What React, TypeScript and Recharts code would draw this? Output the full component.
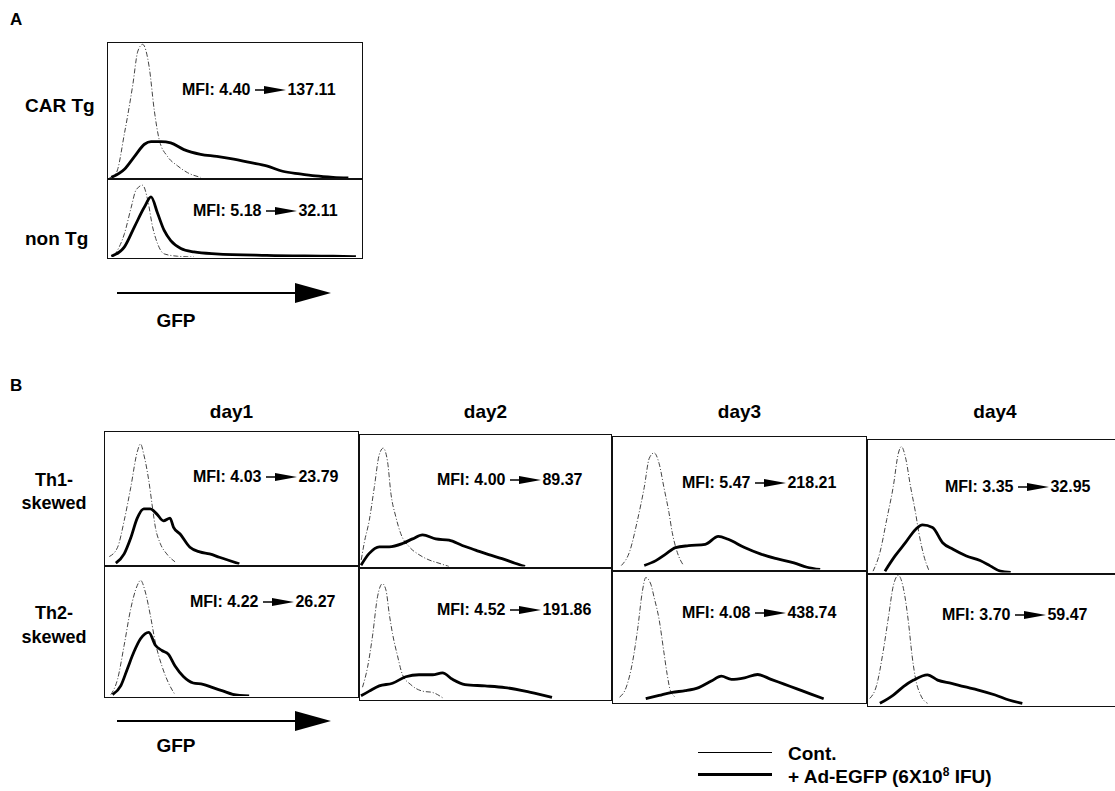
import React from 'react';
import { LineChart, Line, XAxis, YAxis } from 'recharts';

type Pt = [number, number];

// x = % of panel width, y = % of panel height
// panel A
const carTgCont: Pt[] = [[0.5, 0], [3.3, 4], [6.5, 33], [9.8, 69], [11.8, 94], [13.7, 99], [16.3, 82], [18.3, 50], [20.3, 28], [23.5, 16], [27.5, 9], [31.4, 4], [36.6, 0.5]];
const carTgEgfp: Pt[] = [[1.3, 0.5], [6.5, 6.5], [10.5, 16], [14.4, 25], [17, 27], [21, 27], [24.8, 26], [30, 21], [36.6, 17.5], [43, 16], [49.7, 14], [56, 11.5], [62.7, 9], [69, 5], [75.8, 3], [82, 1.5], [89, 0.5], [95, 0]];
const nonTgCont: Pt[] = [[2.6, 2], [6.5, 30], [9.2, 64], [11.1, 86], [13.7, 92], [15.7, 73], [17.6, 39], [19.6, 17], [22.2, 4], [27.5, 1], [34, 0]];
const nonTgEgfp: Pt[] = [[1.3, 1], [6.5, 13], [10.5, 39], [14.4, 64], [17, 77], [19.6, 56], [22.2, 34], [24.8, 21], [28.8, 11], [34, 6.5], [42.5, 4], [62.7, 2], [89, 1], [98, 0.5]];

// panel B, Th1-skewed
const th1d1Cont: Pt[] = [[1.7, 6], [5, 13], [7.6, 33], [10.2, 58], [12.8, 85], [14.1, 91], [15.4, 83], [17.4, 63], [18.7, 45], [20, 28], [21.9, 16], [24.5, 8], [27.8, 2]];
const th1d1Egfp: Pt[] = [[4.3, 1], [7.6, 8], [10.2, 20], [12.8, 35], [15.4, 42], [18, 42], [20.6, 38], [23.2, 33], [25.8, 35], [27.2, 28], [29.8, 23], [33.7, 13], [37.6, 9.5], [41.5, 8], [45.4, 5.5], [49.3, 3], [53.3, 0.5]];
const th1d2Cont: Pt[] = [[0.5, 5], [1.7, 18], [3.7, 35], [5.7, 60], [7.7, 85], [9.3, 90], [11, 80], [12.4, 55], [14.3, 38], [16.3, 25], [19.7, 15], [23.6, 9], [27.6, 5], [31.6, 2.5], [35.6, 0]];
const th1d2Egfp: Pt[] = [[0.4, 1], [3.7, 10], [7.7, 15], [11.7, 15], [17, 17.5], [21, 21], [25, 24], [30.3, 21], [35.6, 20], [40.9, 16], [46.2, 12.5], [51.5, 9], [56.8, 6], [62, 2.5], [66, 0]];
const th1d3Cont: Pt[] = [[3.3, 3], [6.5, 13], [9.8, 38], [12.4, 62], [14.4, 84], [16.3, 88], [18.3, 80], [20.2, 62], [22.2, 43], [23.5, 28], [25.5, 13], [28, 3]];
const th1d3Egfp: Pt[] = [[12.4, 3], [17, 6.7], [20.9, 11.6], [24.8, 16.5], [30, 18], [36.6, 19], [41.8, 25], [45.7, 22.8], [52.2, 16.6], [58.7, 11.6], [65.3, 8], [71.8, 5], [77, 1.7], [82.2, 0]];
const th1d4Cont: Pt[] = [[2, 1], [4.7, 15], [7.4, 40], [10, 65], [12, 90], [13.2, 95], [14.8, 87], [16.8, 65], [18.8, 45], [20.1, 30], [22.1, 12.5], [24.2, 1]];
const th1d4Egfp: Pt[] = [[6.7, 1], [10.7, 12.5], [14.8, 22.5], [18.8, 32.5], [21.5, 36], [25.5, 34], [29.5, 22.5], [33.6, 17.5], [38.9, 12.5], [44.3, 9], [48.3, 5], [52.3, 1], [56.4, 0]];

// panel B, Th2-skewed
const th2d1Cont: Pt[] = [[2.3, 1], [5, 13], [7.6, 39], [10.2, 67], [12.8, 85], [14.1, 89], [16, 80], [18, 62], [20, 41], [22.6, 23], [25.2, 10], [27.8, 1]];
const th2d1Egfp: Pt[] = [[3, 1], [6.3, 8], [8.9, 21], [11.5, 34], [14.1, 44], [17.4, 49], [20, 39], [22.6, 35], [25.2, 32], [27.8, 23], [31.1, 15], [35, 10], [38.9, 9], [42.8, 6.4], [46.7, 3.9], [50.7, 1.3], [57.2, 0]];
const th2d2Cont: Pt[] = [[1, 9], [3, 24], [5, 48], [7, 78], [9, 88], [10.4, 83], [11.7, 65], [13, 50], [15, 33], [17, 18.5], [20.3, 11], [25, 6], [29, 5], [33, 1]];
const th2d2Egfp: Pt[] = [[0.4, 2.5], [3.7, 6], [7.7, 10], [13, 12], [18.3, 17], [23.6, 18.5], [29, 18.5], [33, 20], [37, 15], [42, 11], [50, 10], [58, 8.7], [66, 6], [71.4, 3.7], [76.8, 1.2]];
const th2d3Cont: Pt[] = [[2.6, 3.7], [5.2, 11], [7.8, 31], [9.8, 56], [11.7, 85], [13, 95], [15, 90], [16.3, 80], [18.3, 63], [20.2, 38], [21.5, 21], [22.8, 8.6], [24.8, 3.7]];
const th2d3Egfp: Pt[] = [[13, 2.5], [18.3, 5], [23.5, 7.4], [28.7, 8.6], [34, 11], [39, 16], [43, 19.8], [47, 17.3], [52.2, 18.5], [57.4, 21], [62.7, 17.3], [67.9, 13.6], [73, 10], [78.3, 6.2], [83.6, 2.5]];
const th2d4Cont: Pt[] = [[0.7, 5], [3.4, 15], [6, 41], [8, 66], [10, 91], [12, 99], [14, 89], [16, 63], [17.4, 38], [18.8, 20], [20.8, 7.6], [23.5, 1.3]];
const th2d4Egfp: Pt[] = [[4.7, 1.3], [10, 7.6], [14, 14], [18, 19], [23.5, 23], [27.5, 19], [33, 16.5], [38, 14], [43.6, 11.4], [50.3, 7.6], [55.7, 3.8], [61, 1.3]];

const rowLabelsA = ['CAR Tg', 'non Tg'];
const mfiA = [['4.40', '137.11'], ['5.18', '32.11']];
const days = ['day1', 'day2', 'day3', 'day4'];
const rowLabelsB = [['Th1-', 'skewed'], ['Th2-', 'skewed']];
const mfiTh1 = [['4.03', '23.79'], ['4.00', '89.37'], ['5.47', '218.21'], ['3.35', '32.95']];
const mfiTh2 = [['4.22', '26.27'], ['4.52', '191.86'], ['4.08', '438.74'], ['3.70', '59.47']];
const legendItems = ['Cont.', '+ Ad-EGFP (6X10', '8', ' IFU)'];

const contTh1 = [th1d1Cont, th1d2Cont, th1d3Cont, th1d4Cont];
const egfpTh1 = [th1d1Egfp, th1d2Egfp, th1d3Egfp, th1d4Egfp];
const contTh2 = [th2d1Cont, th2d2Cont, th2d3Cont, th2d4Cont];
const egfpTh2 = [th2d1Egfp, th2d2Egfp, th2d3Egfp, th2d4Egfp];

// layout
const FONT = '"Liberation Sans", Arial, Helvetica, sans-serif';
const colX = [104, 359, 612, 867];
const colW = [255, 253, 255, 256];
const colTop = [431, 434, 436, 439];
const colMid = [565, 567, 570, 573];
const colBot = [698, 701, 704, 707];
const mfiB1 = [[193, 477], [437, 480], [682, 483], [945, 487]];
const mfiB2 = [[190, 602], [437, 610], [682, 613], [942, 615]];

const toPts = (arr: Pt[]) => arr.map(([x, y]) => ({ x, y }));

function Histo({ x, y, w, h, cont, egfp }: { x: number; y: number; w: number; h: number; cont: Pt[]; egfp: Pt[] }) {
  return (
    <div style={{ position: 'absolute', left: x, top: y, width: w, height: h, border: '1.6px solid #111', boxSizing: 'border-box', overflow: 'hidden' }}>
      <LineChart width={w - 3} height={h - 3} margin={{ top: 0, right: 0, bottom: 0, left: 0 }}>
        <XAxis type="number" dataKey="x" domain={[0, 100]} hide allowDataOverflow />
        <YAxis type="number" dataKey="y" domain={[0, 100]} hide allowDataOverflow />
        <Line data={toPts(cont)} dataKey="y" type="monotone" stroke="#444" strokeWidth={1} strokeDasharray="5 2 1 2" dot={false} isAnimationActive={false} />
        <Line data={toPts(egfp)} dataKey="y" type="monotone" stroke="#000" strokeWidth={2.8} dot={false} isAnimationActive={false} />
      </LineChart>
    </div>
  );
}

function Arrow({ w = 31 }: { w?: number }) {
  return (
    <svg width={w} height={10} style={{ margin: '0 1px 0 5px' }}>
      <line x1={0} y1={5} x2={10} y2={5} stroke="#000" strokeWidth={1.5} />
      <polygon points={`9,1 ${w},5 9,9`} fill="#000" />
    </svg>
  );
}

function Mfi({ x, y, v }: { x: number; y: number; v: string[] }) {
  return (
    <div style={{ position: 'absolute', left: x, top: y - 9, height: 18, display: 'flex', alignItems: 'center', font: `bold 16px ${FONT}`, whiteSpace: 'nowrap' }}>
      <span>MFI: {v[0]}</span>
      <Arrow />
      <span>{v[1]}</span>
    </div>
  );
}

function Label({ x, y, text, size = 19, center = false }: { x: number; y: number; text: string; size?: number; center?: boolean }) {
  return (
    <div style={{ position: 'absolute', left: center ? x - 60 : x, width: center ? 120 : undefined, textAlign: center ? 'center' : 'left', top: y - size / 2, font: `bold ${size}px ${FONT}`, lineHeight: 1, whiteSpace: 'nowrap' }}>
      {text}
    </div>
  );
}

function GfpAxis({ y, gap }: { y: number; gap: number }) {
  return (
    <>
      <svg style={{ position: 'absolute', left: 115, top: y - 11 }} width={220} height={22}>
        <line x1={2} y1={11} x2={185} y2={11} stroke="#000" strokeWidth={2} />
        <polygon points="180,1 216,11 180,21" fill="#000" />
      </svg>
      <Label x={176} y={y + gap} text="GFP" size={19} center />
    </>
  );
}

export default function App() {
  return (
    <div style={{ position: 'absolute', left: 0, top: 0, width: 1115, height: 791, overflow: 'hidden', background: '#fff', color: '#000', fontFamily: FONT }}>
      {/* A */}
      <Label x={10} y={19} text="A" size={17} />
      <Histo x={107} y={42} w={256} h={138} cont={carTgCont} egfp={carTgEgfp} />
      <Histo x={107} y={178} w={256} h={81} cont={nonTgCont} egfp={nonTgEgfp} />
      <Label x={25} y={105} text={rowLabelsA[0]} />
      <Label x={25} y={238} text={rowLabelsA[1]} />
      <Mfi x={182} y={90} v={mfiA[0]} />
      <Mfi x={193} y={211} v={mfiA[1]} />
      <GfpAxis y={293} gap={27} />

      {/* B */}
      <Label x={10} y={385} text="B" size={17} />
      {days.map((d, i) => (
        <Label key={d} x={colX[i] + colW[i] / 2} y={411} text={d} center />
      ))}
      {colX.map((x, i) => (
        <React.Fragment key={i}>
          <Histo x={x} y={colTop[i]} w={colW[i]} h={colMid[i] - colTop[i] + 1.5} cont={contTh1[i]} egfp={egfpTh1[i]} />
          <Histo x={x} y={colMid[i]} w={colW[i]} h={colBot[i] - colMid[i]} cont={contTh2[i]} egfp={egfpTh2[i]} />
          <Mfi x={mfiB1[i][0]} y={mfiB1[i][1]} v={mfiTh1[i]} />
          <Mfi x={mfiB2[i][0]} y={mfiB2[i][1]} v={mfiTh2[i]} />
        </React.Fragment>
      ))}
      {rowLabelsB.map((lines, r) => (
        <React.Fragment key={r}>
          <Label x={54} y={r === 0 ? 480 : 613} text={lines[0]} size={18} center />
          <Label x={54} y={r === 0 ? 503 : 637} text={lines[1]} size={18} center />
        </React.Fragment>
      ))}
      <GfpAxis y={721} gap={24} />

      {/* legend */}
      <div style={{ position: 'absolute', left: 698, top: 752, width: 74, height: 1, background: '#000' }} />
      <Label x={788} y={753} text={legendItems[0]} size={19} />
      <div style={{ position: 'absolute', left: 698, top: 773, width: 74, height: 3, background: '#000' }} />
      <div style={{ position: 'absolute', left: 788, top: 775 - 9.5, font: `bold 19px ${FONT}`, lineHeight: 1, whiteSpace: 'nowrap' }}>
        {legendItems[1]}
        <sup style={{ fontSize: 12 }}>{legendItems[2]}</sup>
        {legendItems[3]}
      </div>
    </div>
  );
}
